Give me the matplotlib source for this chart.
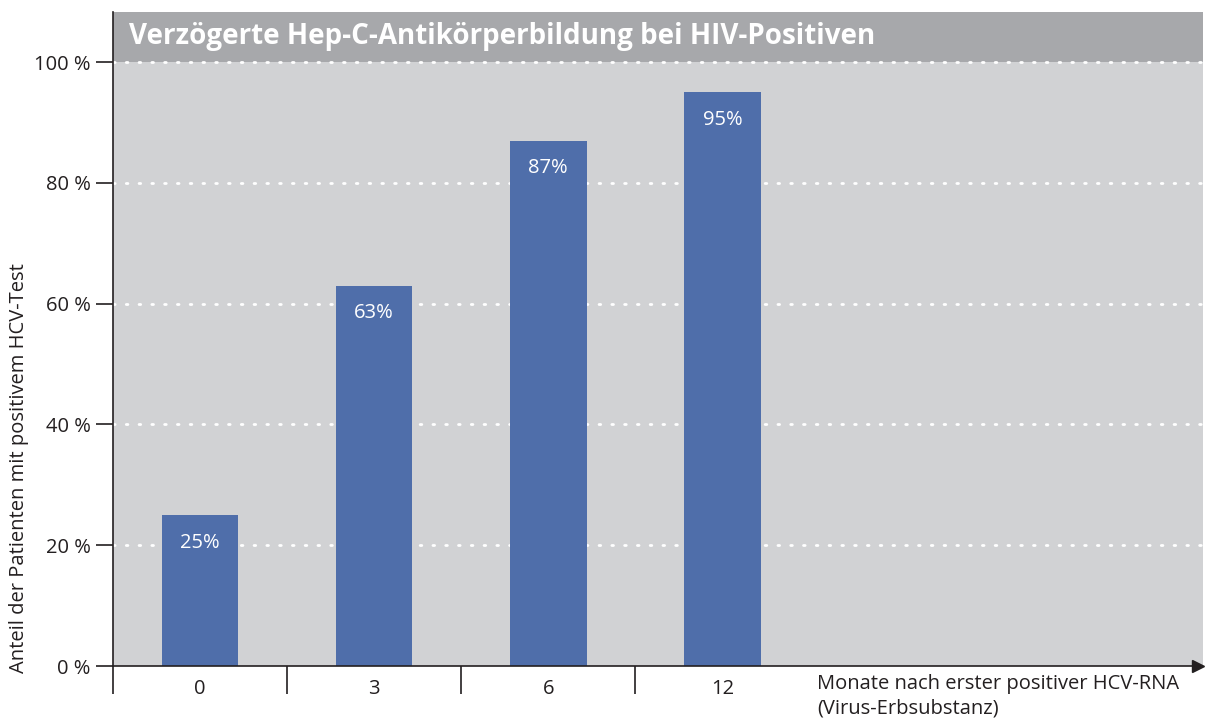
import numpy as np
import matplotlib.pyplot as plt

plt.rcParams['font.family'] = ['Open Sans', 'DejaVu Sans']

# Daten
monate = ['0', '3', '6', '12']
anteil = [25, 63, 87, 95]
y_ticks = [0, 20, 40, 60, 80, 100]
y_labels = ['0 %', '20 %', '40 %', '60 %', '80 %', '100 %']

blau = '#4F6EAA'
hellgrau = '#D1D2D4'
dunkelgrau = '#A7A8AB'
dunkel = '#231F20'

fig = plt.figure(figsize=(12.06, 7.2), dpi=100)
ax = fig.add_axes([0.0937, 0.075, 0.9038, 0.9083])

x = np.arange(len(monate))
ymax = 108.3
xmax = 5.76

ax.set_xlim(-0.5, xmax)
ax.set_ylim(0, ymax)
ax.set_facecolor(hellgrau)
# Titelband
ax.axhspan(100, ymax, color=dunkelgrau, lw=0, zorder=0)

# Gitterlinien
for t in y_ticks[1:]:
    ax.axhline(t, color='white', lw=2, ls=(0, (0.6, 4)), dash_capstyle='round', zorder=1)

ax.bar(x, anteil, width=0.44, color=blau, zorder=2)
for xi, v in zip(x, anteil):
    ax.text(xi, v - 4.6, f'{v}%', ha='center', va='center', color='white', fontsize=14.5, zorder=3)

ax.text(0.015, 104.3, 'Verzögerte Hep-C-Antikörperbildung bei HIV-Positiven',
        color='white', fontsize=20, fontweight='bold', va='center', ha='left',
        transform=ax.get_yaxis_transform(), zorder=3)

for s in ['top', 'right']:
    ax.spines[s].set_visible(False)
ax.spines['left'].set_color(dunkel)
ax.spines['bottom'].set_color(dunkel)
ax.spines['left'].set_linewidth(1.2)
ax.spines['bottom'].set_linewidth(1.2)
ax.spines['bottom'].set_bounds(-0.5, xmax - 0.05)
ax.plot([xmax - 0.03], [0], marker='>', color=dunkel, markersize=9, clip_on=False, zorder=4)

ax.set_yticks(y_ticks)
ax.set_yticklabels(y_labels, fontsize=14.5, color=dunkel)
ax.tick_params(axis='y', direction='out', length=12, width=1.2, color=dunkel, pad=4)

ax.set_xticks(x)
ax.set_xticklabels(monate, fontsize=14.5, color=dunkel)
ax.tick_params(axis='x', which='major', length=0, pad=9)
ax.set_xticks(np.arange(len(monate)) - 0.5, minor=True)
ax.tick_params(axis='x', which='minor', direction='out', length=20, width=1.2, color=dunkel)

ax.text(3.545, -1.4, 'Monate nach erster positiver HCV-RNA\n(Virus-Erbsubstanz)',
        fontsize=14.5, color=dunkel, ha='left', va='top', linespacing=1.25)

ax.text(-1.04, -1.2, 'Anteil der Patienten mit positivem HCV-Test', rotation=90,
        fontsize=14.5, color=dunkel, ha='center', va='bottom')

fig.savefig('out.png', dpi=100)
